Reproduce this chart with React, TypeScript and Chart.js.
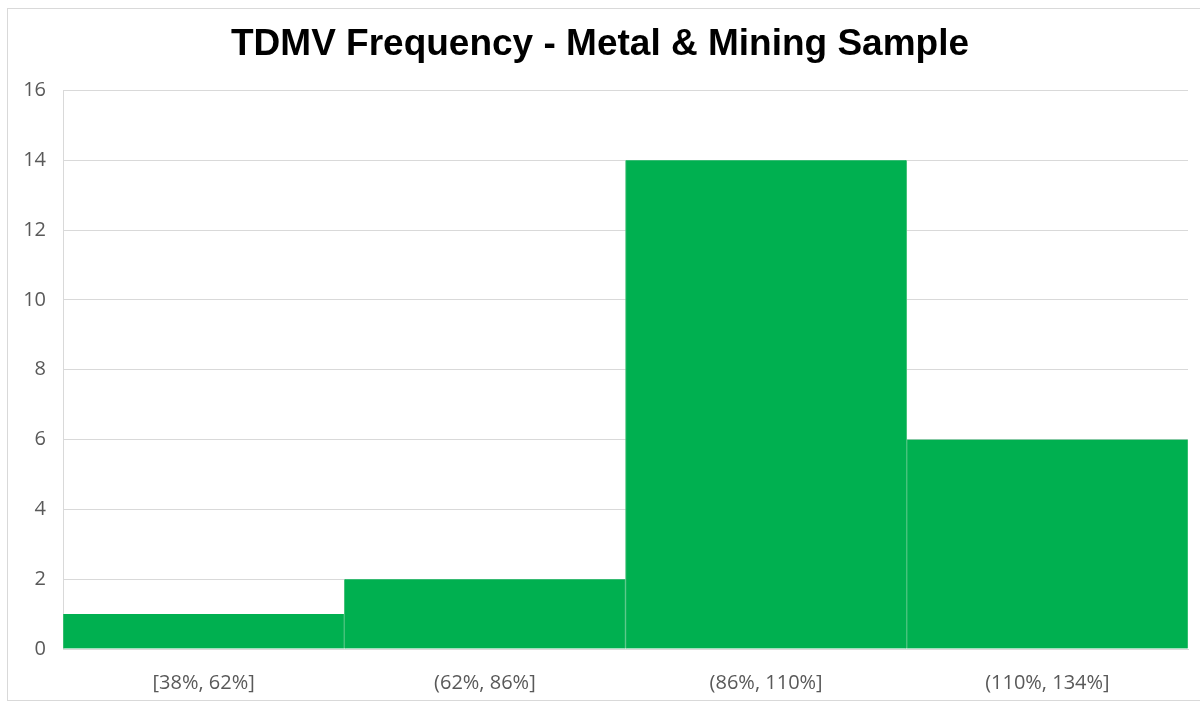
import React, { useEffect, useRef } from "react";
import { Chart, registerables } from "chart.js";

Chart.register(...registerables);

const chartTitle = "TDMV Frequency - Metal & Mining Sample";
const binLabels = ["[38%, 62%]", "(62%, 86%]", "(86%, 110%]", "(110%, 134%]"];
const frequencies = [1, 2, 14, 6];
const yMax = 16;
const yStep = 2;

export default function App() {
  const canvasRef = useRef<HTMLCanvasElement | null>(null);

  useEffect(() => {
    document.body.style.margin = "0";
    const canvas = canvasRef.current;
    if (!canvas) return;
    const chart = new Chart(canvas, {
      type: "bar",
      data: {
        labels: binLabels,
        datasets: [
          {
            data: frequencies,
            backgroundColor: "#00B050",
            borderColor: "#4cc47f",
            borderWidth: { left: 1, right: 1, top: 0, bottom: 0 },
            barPercentage: 1,
            categoryPercentage: 1,
          },
        ],
      },
      options: {
        responsive: false,
        animation: false,
        layout: { padding: { left: 0, right: 0, top: 0, bottom: 0 } },
        plugins: {
          legend: { display: false },
          tooltip: { enabled: false },
          title: {
            display: true,
            text: chartTitle,
            color: "#000000",
            font: { family: "'Liberation Sans', Arial, sans-serif", size: 37, weight: "bold", lineHeight: 1.2 },
            padding: { top: 23, bottom: 23 },
          },
        },
        scales: {
          x: {
            grid: { display: false, drawTicks: false },
            border: { display: true, color: "#d9d9d9", width: 1 },
            ticks: {
              color: "#595959",
              font: { family: "'Open Sans', sans-serif", size: 20 },
              padding: 22,
            },
            afterFit: (scale: any) => {
              scale.height = 53;
            },
          },
          y: {
            min: 0,
            max: yMax,
            grid: { color: "#d9d9d9", drawTicks: false },
            border: { display: true, color: "#d9d9d9", width: 1 },
            ticks: {
              stepSize: yStep,
              color: "#595959",
              font: { family: "'Open Sans', sans-serif", size: 20 },
              padding: 17,
            },
            afterFit: (scale: any) => {
              scale.width = 63;
            },
          },
          // empty right-hand margin beside the plot
          yRight: {
            position: "right",
            min: 0,
            max: yMax,
            grid: { display: false, drawTicks: false },
            border: { display: false },
            ticks: { display: false },
            afterFit: (scale: any) => {
              scale.width = 12;
            },
          },
        },
      },
    });
    return () => chart.destroy();
  }, []);

  return (
    <div style={{ position: "relative", width: 1200, height: 702, background: "#fff" }}>
      <canvas ref={canvasRef} width={1200} height={702} style={{ display: "block" }} />
      <div
        style={{
          position: "absolute",
          left: 7,
          top: 8,
          width: 1200,
          height: 693,
          border: "1px solid #d9d9d9",
          boxSizing: "border-box",
          pointerEvents: "none",
        }}
      />
    </div>
  );
}
